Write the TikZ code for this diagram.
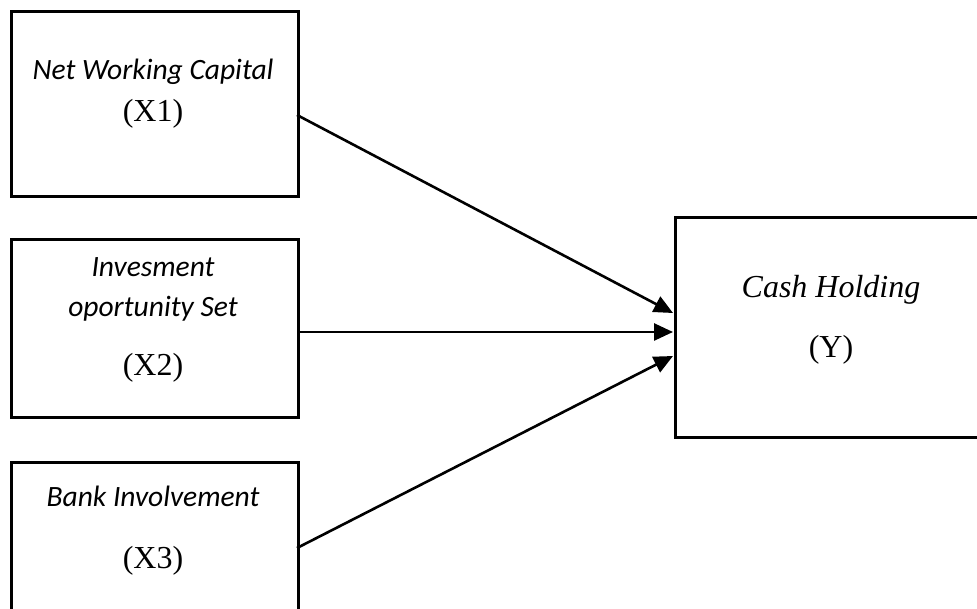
\documentclass[tikz,border=0pt]{standalone}
\usepackage{fontspec}
\setmainfont{Liberation Serif}
\newfontfamily\calibfont{Carlito}
\usetikzlibrary{arrows.meta}
\tikzset{
  box/.style={draw=black, line width=2.8pt, inner sep=0pt, anchor=north west},
  sanslabel/.style={font=\calibfont\itshape\fontsize{29.5}{35}\selectfont, inner sep=0pt, anchor=center},
  seriflabel/.style={font=\fontsize{32}{38}\selectfont, inner sep=0pt, anchor=center},
  link/.style={line width=2.6pt, -{Triangle[length=19pt,width=17pt]}}
}
\begin{document}
\begin{tikzpicture}[x=1pt,y=-1pt]
\useasboundingbox (0,0) rectangle (977,609);
\clip (0,0) rectangle (977,609);
\fill[white] (0,0) rectangle (977,609);
% boxes
\node[box, minimum width=287pt, minimum height=185pt] (x1) at (10,10) {};
\node[box, minimum width=287pt, minimum height=178pt] (x2) at (10,238) {};
\node[box, minimum width=287pt, minimum height=180pt] (x3) at (10,461) {};
\node[box, minimum width=330pt, minimum height=220pt] (y) at (674,216) {};
% labels
\node[sanslabel] (x1a) at (153,72) {Net Working Capital};
\node[seriflabel] (x1b) at (153,114) {(X1)};
\node[sanslabel] (x2a) at (153,267) {Invesment};
\node[sanslabel] (x2b) at (153,309) {oportunity Set};
\node[seriflabel] (x2c) at (153,368) {(X2)};
\node[sanslabel] (x3a) at (153,496) {Bank Involvement};
\node[seriflabel] (x3b) at (153,561) {(X3)};
\node[font=\itshape\fontsize{32}{38}\selectfont, inner sep=0pt] (ya) at (831,290) {Cash Holding};
\node[seriflabel] (yb) at (831,350) {(Y)};
% connector end points
\coordinate (s1) at (297,115);
\coordinate (s2) at (297,332);
\coordinate (s3) at (297,548);
\coordinate (t1) at (673,313);
\coordinate (t2) at (673,332);
\coordinate (t3) at (673,356);
\draw[link] (s1) -- (t1);
\draw[link] (s2) -- (t2);
\draw[link] (s3) -- (t3);
\end{tikzpicture}
\end{document}
